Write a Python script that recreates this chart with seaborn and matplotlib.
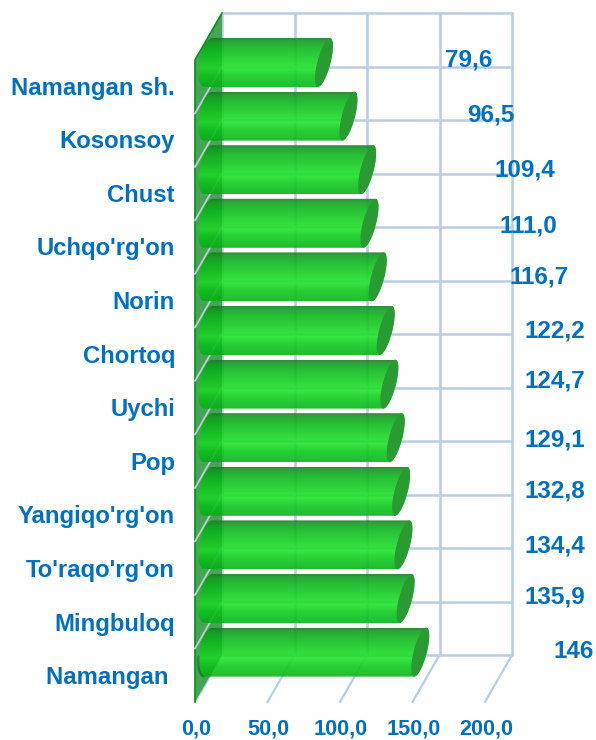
import numpy as np
import pandas as pd
import matplotlib
matplotlib.use("Agg")
import matplotlib.pyplot as plt
from matplotlib.colors import LinearSegmentedColormap
from matplotlib.patches import Polygon
import seaborn as sns

districts = ["Namangan sh.", "Kosonsoy", "Chust", "Uchqo'rg'on", "Norin", "Chortoq",
             "Uychi", "Pop", "Yangiqo'rg'on", "To'raqo'rg'on", "Mingbuloq", "Namangan "]
values = [79.6, 96.5, 109.4, 111.0, 116.7, 122.2, 124.7, 129.1, 132.8, 134.4, 135.9, 146.0]
value_labels = ["79,6", "96,5", "109,4", "111,0", "116,7", "122,2",
                "124,7", "129,1", "132,8", "134,4", "135,9", "146"]
axis_values = [0, 50, 100, 150, 200]
axis_labels = ["0,0", "50,0", "100,0", "150,0", "200,0"]

# layout in pixels of the 596x740 picture
PX_PER_UNIT = 1.45
ROW_H = 53.6
X0 = 208.5
Y0 = 62.5
BACK_X = 222
FRONT_X = 195
BACK_TOP = 13
BACK_BOTTOM = 655
DEPTH_Y = 47
LABEL_X = [469, 491, 525, 528, 539, 555, 555, 555, 555, 555, 555, 574]
LABEL_Y = [60, 115, 170, 226, 277, 331, 381, 440, 491, 546, 597, 652]

BLUE = "#0070C0"
GRID = "#B8CCE4"


def px_x(p):
    return (p - X0) / PX_PER_UNIT


def px_y(p):
    return (p - Y0) / ROW_H


def end_arc(x_val, y_cat, start, stop, a=6.7, b=6):
    # tilted ellipse that closes a cylinder, offsets in pixels
    t = np.radians(np.linspace(start, stop, 40))
    px = x_val * PX_PER_UNIT + X0 + a * np.cos(t) + b * np.sin(t)
    py = y_cat * ROW_H + Y0 - 24.5 * np.sin(t)
    return np.column_stack([px_x(px), px_y(py)])


sns.set_theme(style="white")
plt.rcParams["font.family"] = ["Liberation Sans", "DejaVu Sans"]

fig = plt.figure(figsize=(5.96, 7.4), dpi=100)
ax = fig.add_axes([180 / 596, 1 - 702 / 740, 416 / 596, 702 / 740])

df = pd.DataFrame({"district": districts, "value": values})
sns.barplot(data=df, y="district", x="value", orient="y", color="#22E02D", saturation=1,
            width=49 / ROW_H, errorbar=None, ax=ax, zorder=3)
bars = list(ax.patches)

# back wall grid
for v in axis_values:
    x = BACK_X + v * PX_PER_UNIT
    ax.plot([px_x(x)] * 2, [px_y(BACK_TOP), px_y(BACK_BOTTOM)], color=GRID, lw=1.8, zorder=1, clip_on=False)
    ax.plot([px_x(x), px_x(x - (BACK_X - FRONT_X))], [px_y(BACK_BOTTOM), px_y(BACK_BOTTOM + DEPTH_Y)],
            color=GRID, lw=1.6, zorder=1, clip_on=False)
for k in range(len(districts) + 1):
    y = BACK_TOP + k * (BACK_BOTTOM - BACK_TOP) / len(districts)
    ax.plot([px_x(BACK_X), px_x(BACK_X + 200 * PX_PER_UNIT)], [px_y(y)] * 2, color=GRID, lw=1.8, zorder=1)

# left wall
wall = [(BACK_X, BACK_TOP), (FRONT_X, BACK_TOP + DEPTH_Y), (FRONT_X, BACK_BOTTOM + DEPTH_Y), (BACK_X, BACK_BOTTOM)]
wall = [(px_x(a), px_y(b)) for a, b in wall]
ax.add_patch(Polygon(wall, closed=True, fc="#45A856", ec="none", alpha=0.95, zorder=1.5))
ax.plot([wall[0][0], wall[1][0], wall[2][0]], [wall[0][1], wall[1][1], wall[2][1]],
        color="#0B9A20", lw=1.3, zorder=1.6, clip_on=False)
for k in range(1, len(districts)):
    y = BACK_TOP + k * (BACK_BOTTOM - BACK_TOP) / len(districts)
    ax.plot([px_x(BACK_X), px_x(FRONT_X)], [px_y(y), px_y(y + DEPTH_Y)], color="#D5DDE8", lw=1.3, zorder=1.7)

# cylinders on top of the seaborn bars
shade = LinearSegmentedColormap.from_list("cyl", [
    (0.0, "#1F7A28"), (0.06, "#139A22"), (0.2, "#0DB81E"), (0.5, "#1BD826"),
    (0.62, "#22E42C"), (0.78, "#0ECC1E"), (1.0, "#0AB41A")])
gradient = np.linspace(0, 1, 128).reshape(-1, 1)
for i, bar in enumerate(bars):
    bar.set_alpha(0)
    end = bar.get_width()
    outline = np.vstack([end_arc(0, i, 90, 270, a=9.5, b=4), end_arc(end, i, -90, 90)])
    body = Polygon(outline, closed=True, fc="none", ec="none", transform=ax.transData)
    ax.add_patch(body)
    top = px_y(Y0 + i * ROW_H - 24.5)
    bottom = px_y(Y0 + i * ROW_H + 24.5)
    im = ax.imshow(gradient, cmap=shade, aspect="auto", alpha=0.9, zorder=3,
                   extent=(px_x(190), px_x(450), bottom, top), origin="upper")
    im.set_clip_path(body)
    ax.add_patch(Polygon(end_arc(end, i, 0, 360), closed=True, fc="#2A9A32", ec="none", zorder=3.2))

# dark rim under the lowest cylinder
rim = end_arc(0, len(bars) - 1, 190, 262, a=9.5, b=4)
ax.plot(rim[:, 0], rim[:, 1], color="#2B4A30", lw=1.6, alpha=0.5, zorder=3.1)

# wall seen through the bars
ax.add_patch(Polygon(wall, closed=True, fc="#007010", ec="none", alpha=0.12, zorder=3.5))

for i, txt in enumerate(value_labels):
    ax.text(px_x(LABEL_X[i]), px_y(LABEL_Y[i]), txt, color=BLUE, fontsize=17.5, fontweight="bold",
            ha="center", va="center", zorder=5)

ax.set_xlim(px_x(180), px_x(596))
ax.set_ylim(px_y(702), px_y(0))
ax.set_xticks([px_x(FRONT_X + 1 + v * PX_PER_UNIT) for v in axis_values])
ax.set_xticklabels(axis_labels, color=BLUE, fontsize=15.6, fontweight="bold")
ax.set_yticks([i + 23 / ROW_H for i in range(len(districts))])
ax.set_yticklabels(districts, color=BLUE, fontsize=17.2, fontweight="bold")
ax.tick_params(axis="x", length=0, pad=12)
ax.tick_params(axis="y", length=0, pad=3.6)
ax.set_xlabel("")
ax.set_ylabel("")
sns.despine(ax=ax, left=True, bottom=True)

fig.savefig("out.png", dpi=100)
